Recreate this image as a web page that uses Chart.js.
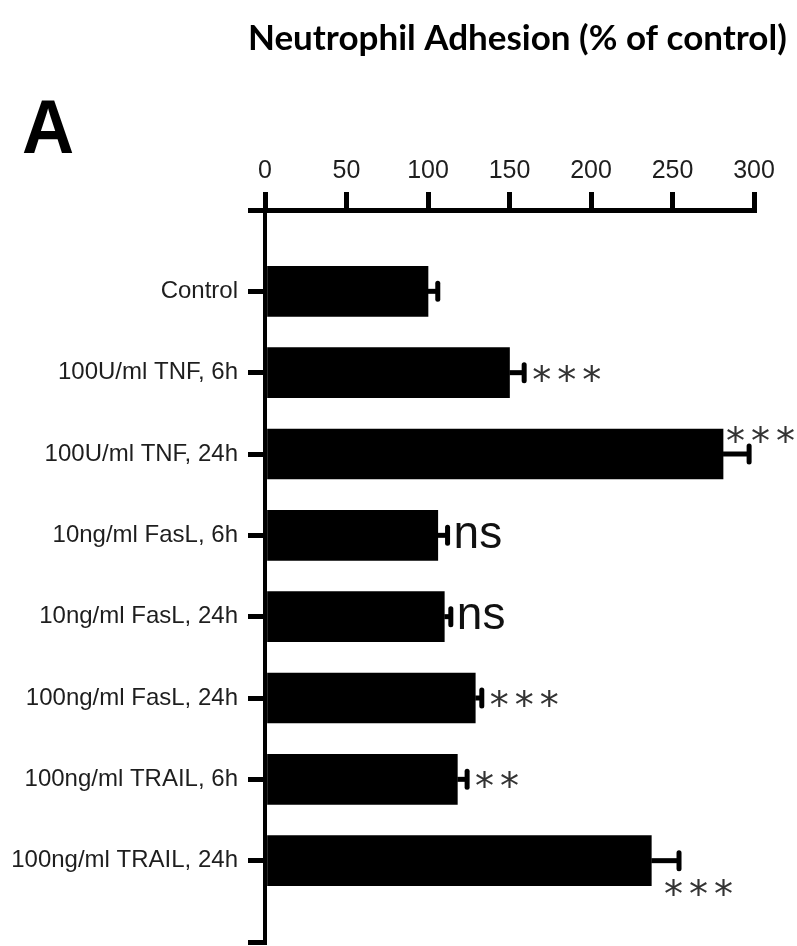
<!DOCTYPE html>
<html>
<head>
<meta charset="utf-8">
<title>Neutrophil Adhesion</title>
<script src="https://cdn.jsdelivr.net/npm/chart.js@4.4.1/dist/chart.umd.min.js"></script>
<style>
  html, body { margin: 0; padding: 0; background: #ffffff; }
  canvas { display: block; }
</style>
</head>
<body>
<canvas id="chart" width="797" height="946"></canvas>
<script>
// Treatment groups, top to bottom
const categories = [
  'Control',
  '100U/ml TNF, 6h',
  '100U/ml TNF, 24h',
  '10ng/ml FasL, 6h',
  '10ng/ml FasL, 24h',
  '100ng/ml FasL, 24h',
  '100ng/ml TRAIL, 6h',
  '100ng/ml TRAIL, 24h'
];
// Mean adhesion, % of control
const adhesion = [100, 150, 281, 106, 110, 129, 118, 237];
// Standard error of the mean
const sem = [6, 9, 16, 6, 4, 4, 6, 17];
// Significance versus control
const significance = ['', '***', '***', 'ns', 'ns', '***', '**', '***'];
// Value axis
const xTickValues = [0, 50, 100, 150, 200, 250, 300];

const titleText = 'Neutrophil Adhesion (% of control)';
const panelLetter = 'A';

// Where each significance mark sits relative to its error-bar cap
const markPlacement = [
  null,
  { dx: 9, dy: 0 },
  { dx: -22, dy: -20 },
  { dx: 9, dy: 0 },
  { dx: 9, dy: 0 },
  { dx: 9, dy: 0 },
  { dx: 9, dy: 0 },
  { dx: -14, dy: 26 }
];

const errorBars = {
  id: 'errorBars',
  afterDatasetsDraw(chart) {
    const ctx = chart.ctx;
    const xs = chart.scales.x;
    const meta = chart.getDatasetMeta(0);
    ctx.save();
    ctx.strokeStyle = '#000';
    meta.data.forEach((bar, i) => {
      const x0 = xs.getPixelForValue(adhesion[i]);
      const x1 = xs.getPixelForValue(adhesion[i] + sem[i]);
      const y = bar.y;
      ctx.lineWidth = 5;
      ctx.lineCap = 'butt';
      ctx.beginPath();
      ctx.moveTo(x0, y);
      ctx.lineTo(x1, y);
      ctx.stroke();
      ctx.lineCap = 'round';
      ctx.lineWidth = 5;
      ctx.beginPath();
      ctx.moveTo(x1, y - 8);
      ctx.lineTo(x1, y + 8);
      ctx.stroke();
    });
    ctx.restore();
  }
};

const marks = {
  id: 'marks',
  afterDraw(chart) {
    const ctx = chart.ctx;
    const xs = chart.scales.x;
    const meta = chart.getDatasetMeta(0);
    ctx.save();
    ctx.textAlign = 'left';
    ctx.textBaseline = 'alphabetic';
    meta.data.forEach((bar, i) => {
      const label = significance[i];
      const place = markPlacement[i];
      if (!label || !place) return;
      const isStar = label.indexOf('*') >= 0;
      if (isStar) {
        ctx.font = '38px "DejaVu Sans", sans-serif';
        ctx.fillStyle = '#333';
        ctx.letterSpacing = '6px';
      } else {
        ctx.font = '46px "Liberation Sans", Arial, sans-serif';
        ctx.fillStyle = '#111';
        ctx.letterSpacing = '0px';
      }
      const m = ctx.measureText(label);
      const left = xs.getPixelForValue(adhesion[i] + sem[i]) + place.dx;
      const cy = bar.y + place.dy;
      const baseline = cy + (m.actualBoundingBoxAscent - m.actualBoundingBoxDescent) / 2;
      ctx.fillText(label, left + m.actualBoundingBoxLeft, baseline);
    });
    ctx.letterSpacing = '0px';

    // heading
    ctx.fillStyle = '#000';
    ctx.font = 'bold 35px Lato, "Open Sans", sans-serif';
    ctx.textAlign = 'left';
    ctx.fillText(titleText, 248, 50);

    // panel letter
    ctx.save();
    ctx.translate(22, 153);
    ctx.scale(0.95, 1);
    ctx.font = 'bold 76px "Liberation Sans", Arial, sans-serif';
    ctx.fillText(panelLetter, 0, 0);
    ctx.restore();
    ctx.restore();
  }
};

new Chart(document.getElementById('chart'), {
  type: 'bar',
  data: {
    datasets: [{
      data: adhesion.map((v, i) => ({ x: v, y: i + 1 })),
      backgroundColor: '#000',
      borderWidth: 0,
      barThickness: 50
    }]
  },
  options: {
    indexAxis: 'y',
    responsive: false,
    animation: false,
    devicePixelRatio: 1,
    layout: { padding: { top: 140, left: 0, right: 43, bottom: 4 } },
    plugins: {
      legend: { display: false },
      tooltip: { enabled: false }
    },
    scales: {
      x: {
        type: 'linear',
        position: 'top',
        min: 0,
        max: 300,
        afterBuildTicks: (scale) => { scale.ticks = xTickValues.map(v => ({ value: v })); },
        afterFit: (scale) => { scale.height = 70; },
        ticks: {
          color: '#1e1e1e',
          font: { family: '"Liberation Sans", Arial, sans-serif', size: 25 },
          padding: 6,
          maxRotation: 0
        },
        grid: {
          drawOnChartArea: false,
          drawTicks: true,
          tickLength: 18,
          lineWidth: 5,
          color: '#000'
        },
        border: { display: true, width: 5, color: '#000' }
      },
      y: {
        type: 'linear',
        reverse: true,
        offset: false,
        min: 0,
        max: 9,
        afterBuildTicks: (scale) => {
          scale.ticks = Array.from({ length: categories.length + 2 }, (_, k) => ({ value: k }));
        },
        afterFit: (scale) => {
          scale.width = 265;
          scale.paddingTop = 0;
          scale.paddingBottom = 0;
        },
        ticks: {
          autoSkip: false,
          color: '#1e1e1e',
          font: { family: '"Liberation Sans", Arial, sans-serif', size: 24 },
          padding: 10,
          callback: (v) => categories[v - 1] || ''
        },
        grid: {
          offset: false,
          drawOnChartArea: false,
          drawTicks: true,
          tickLength: 17,
          lineWidth: 5,
          color: '#000'
        },
        border: { display: true, width: 4, color: '#000' }
      }
    }
  },
  plugins: [errorBars, marks]
});
</script>
</body>
</html>
